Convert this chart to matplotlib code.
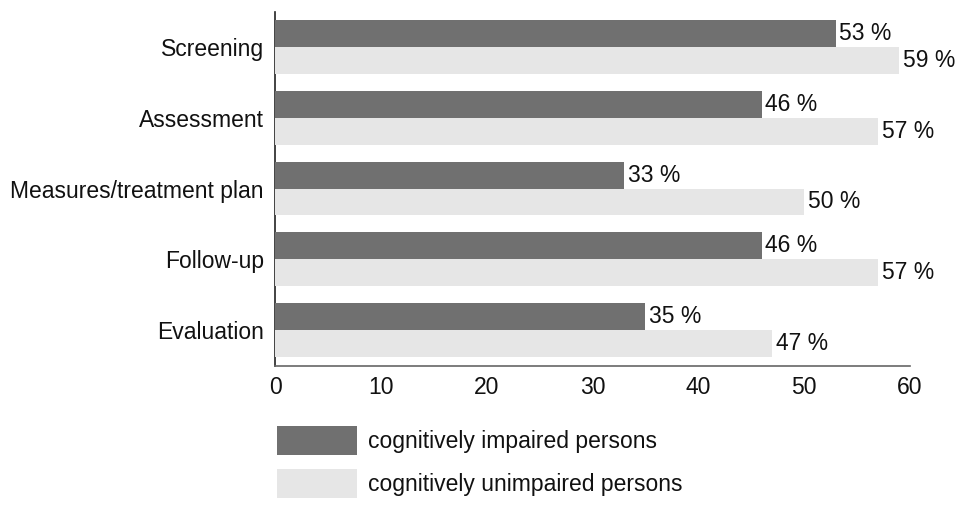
import matplotlib
matplotlib.use("Agg")
import matplotlib.pyplot as plt
from matplotlib.patches import Patch

categories = ["Screening", "Assessment", "Measures/treatment plan", "Follow-up", "Evaluation"]
impaired = [53, 46, 33, 46, 35]
unimpaired = [59, 57, 50, 57, 47]
series_names = ["cognitively impaired persons", "cognitively unimpaired persons"]
xticks = [0, 10, 20, 30, 40, 50, 60]

dark = "#707070"
light = "#e6e6e6"
fs = 16.5
plt.rcParams['font.family'] = ['Liberation Sans', 'DejaVu Sans']
fpx = fs * 100 / 72

fig = plt.figure(figsize=(9.67, 5.08), dpi=100)
ax = fig.add_axes([275/967, 1-366/508, (910-275)/967, 354/508])

h = 0.38
pos = list(range(len(categories)))
b1 = ax.barh([p - h/2 for p in pos], impaired, height=h, color=dark, zorder=3)
b2 = ax.barh([p + h/2 for p in pos], unimpaired, height=h, color=light, zorder=3)
for bars, vals in ((b1, impaired), (b2, unimpaired)):
    for r, v in zip(bars, vals):
        ax.annotate(f"{v} %", (v, r.get_y() + r.get_height()/2), xytext=(2.5, 0),
                    textcoords="offset points", va="center", ha="left",
                    fontsize=fs, color="#111111", zorder=4)

ax.set_ylim(4.507, -0.493)
ax.set_xlim(0, 60)
ax.set_yticks(pos)
ax.set_yticklabels(categories, fontsize=fs)
ax.set_xticks(xticks)
ax.set_xticklabels([str(t) for t in xticks], fontsize=fs)
ax.tick_params(axis="both", length=0, colors="#111111")
ax.tick_params(axis="y", pad=8)
ax.tick_params(axis="x", pad=7)
for s in ("top", "right"):
    ax.spines[s].set_visible(False)
ax.spines["left"].set_color("#222222")
ax.spines["bottom"].set_color("#666666")
for s in ("left", "bottom"):
    ax.spines[s].set_linewidth(1.2)

handles = [Patch(facecolor=dark, edgecolor="none"), Patch(facecolor=light, edgecolor="none")]
fig.legend(handles, series_names, loc="upper left", bbox_to_anchor=(277/967, 1-426/508),
           frameon=False, fontsize=fs, handlelength=80/fpx, handleheight=36/fpx,
           labelspacing=14/fpx, handletextpad=11/fpx, borderpad=0, borderaxespad=0,
           labelcolor="#111111")

fig.savefig("out.png", dpi=100)
